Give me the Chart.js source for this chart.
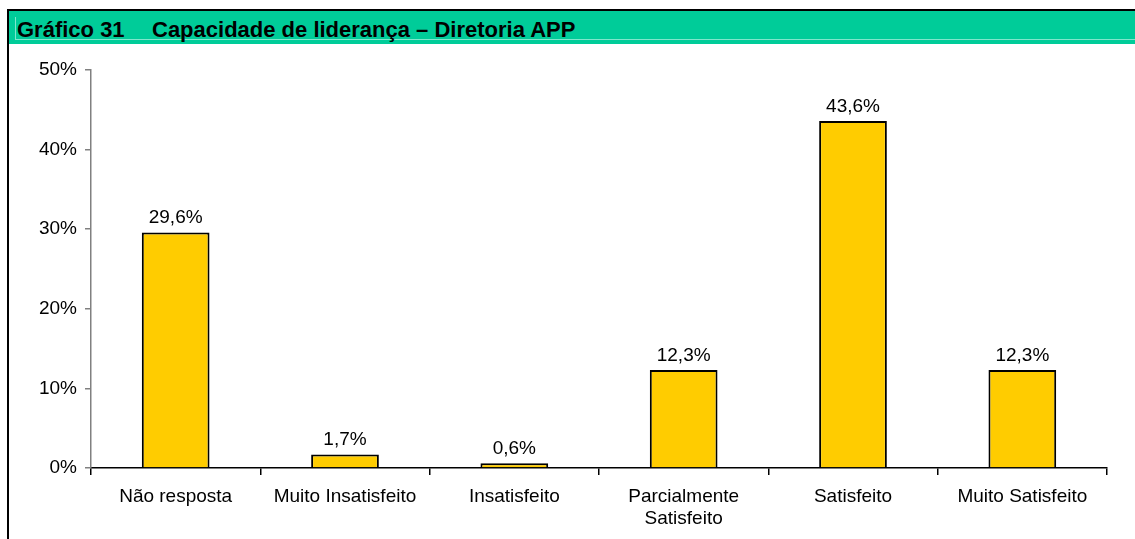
<!DOCTYPE html>
<html>
<head>
<meta charset="utf-8">
<script src="https://cdn.jsdelivr.net/npm/chart.js@4/dist/chart.umd.min.js"></script>
<style>
  html, body { margin:0; padding:0; background:#fff; width:1135px; height:539px; overflow:hidden; }
  #wrap { position:relative; width:1135px; height:539px; }
  canvas { position:absolute; left:0; top:0; }
  .blk { position:absolute; background:#000; }
  #bar { position:absolute; left:9px; top:11px; width:1126px; height:33px; background:#00CC99; }
  #inner { position:absolute; left:15px; top:17px; width:1120px; height:22px; border-left:1px solid #80e6cc; border-bottom:1px solid #80e6cc; }
  .t { position:absolute; font-family:"Liberation Sans", Arial, sans-serif; font-weight:bold; font-size:22px; line-height:22px; color:#000; white-space:nowrap; top:19px; }
</style>
</head>
<body>
<div id="wrap">
  <canvas id="c" width="1135" height="539"></canvas>
  <div id="bar"></div>
  <div id="inner"></div>
  <div class="blk" style="left:7px; top:9px; width:1128px; height:2px;"></div>
  <div class="blk" style="left:7px; top:9px; width:2px; height:530px;"></div>
  <span class="t" style="left:17px;">Gráfico 31</span>
  <span class="t" style="left:152px;">Capacidade de liderança – Diretoria APP</span>
</div>
<script>
const categories = ["Não resposta", "Muito Insatisfeito", "Insatisfeito", ["Parcialmente", "Satisfeito"], "Satisfeito", "Muito Satisfeito"];
const values = [29.6, 1.7, 0.6, 12.3, 43.6, 12.3];
const yTicks = [0, 10, 20, 30, 40, 50];

const FONT = "'Liberation Sans', Arial, sans-serif";

const labelPlugin = {
  id: 'valueLabels',
  afterDatasetsDraw(chart) {
    const ctx = chart.ctx;
    const meta = chart.getDatasetMeta(0);
    ctx.save();
    ctx.font = "19px " + FONT;
    ctx.fillStyle = "#000";
    ctx.textAlign = "center";
    ctx.textBaseline = "alphabetic";
    meta.data.forEach((el, i) => {
      const txt = values[i].toFixed(1).replace('.', ',') + '%';
      ctx.fillText(txt, el.x, el.y - 9);
    });
    ctx.restore();
  }
};

new Chart(document.getElementById('c'), {
  type: 'bar',
  data: {
    labels: categories,
    datasets: [{
      data: values,
      backgroundColor: '#FFCC00',
      borderColor: '#000000',
      borderWidth: 2,
      borderSkipped: 'bottom',
      barPercentage: 0.4,
      categoryPercentage: 1.0
    }]
  },
  options: {
    responsive: false,
    animation: false,
    layout: { padding: { top: 70, right: 28, bottom: 0, left: 0 } },
    plugins: { legend: { display: false }, tooltip: { enabled: false } },
    scales: {
      x: {
        grid: { drawOnChartArea: false, drawTicks: true, tickLength: 7, color: '#000', lineWidth: 1.5, offset: true },
        border: { display: true, color: '#000', width: 1.5 },
        ticks: { color: '#000', font: { family: FONT, size: 19, lineHeight: 1.2 }, padding: 10, maxRotation: 0, autoSkip: false },
        afterFit(s) { s.height = 71; }
      },
      y: {
        min: 0, max: 50,
        afterBuildTicks(s) { s.ticks = yTicks.map(v => ({ value: v })); },
        grid: { drawOnChartArea: false, drawTicks: true, tickLength: 6, color: '#808080', lineWidth: 1.5 },
        border: { display: true, color: '#808080', width: 1.5 },
        ticks: { color: '#000', font: { family: FONT, size: 19 }, padding: 8, callback: v => v + '%' },
        afterFit(s) { s.width = 91; }
      }
    }
  },
  plugins: [labelPlugin]
});
</script>
</body>
</html>
